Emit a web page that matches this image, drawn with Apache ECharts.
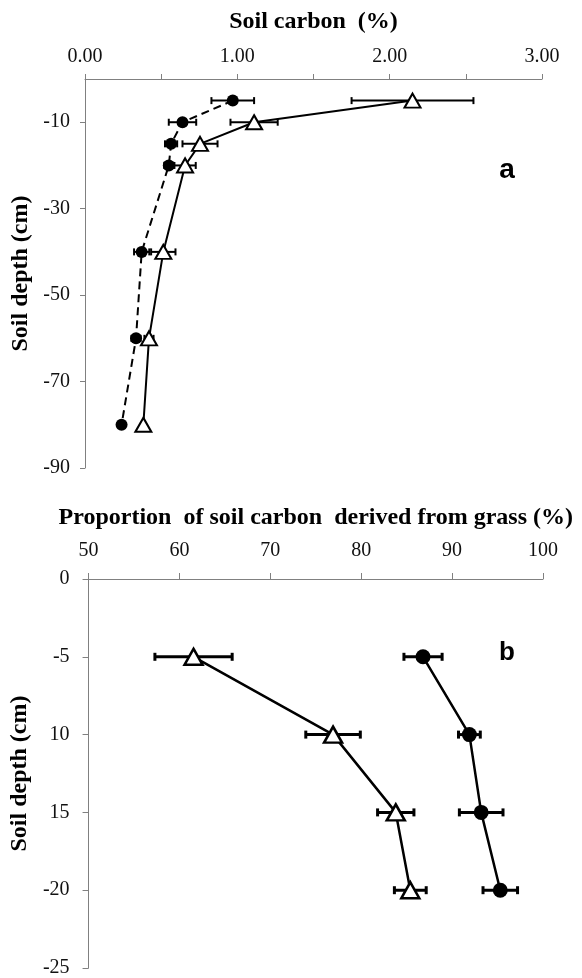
<!DOCTYPE html>
<html>
<head>
<meta charset="utf-8">
<script src="https://cdn.jsdelivr.net/npm/echarts@6/dist/echarts.min.js"></script>
<style>html,body{margin:0;padding:0;background:#fff}#c{width:582px;height:978px}</style>
</head>
<body>
<div id="c"></div>
<script>
// ---- Panel a: soil carbon (%) vs soil depth (cm)
var depthsA = [-5, -10, -15, -20, -40, -60, -80];
var carbonCircle = [0.97, 0.64, 0.565, 0.55, 0.372, 0.335, 0.24];
var carbonCircleErr = [0.14, 0.09, 0.04, 0.03, 0.05, 0.03, 0];
var carbonTriangle = [2.15, 1.11, 0.755, 0.657, 0.514, 0.42, 0.383];
var carbonTriangleErr = [0.40, 0.155, 0.115, 0.07, 0.08, 0.03, 0];

// ---- Panel b: proportion of soil carbon derived from grass (%)
var depthsB = [-5, -10, -15, -20];
var grassTriangle = [61.55, 76.9, 83.8, 85.4];
var grassTriangleErr = [4.25, 3.0, 2.0, 1.75];
var grassCircle = [86.8, 91.9, 93.2, 95.3];
var grassCircleErr = [2.1, 1.2, 2.4, 1.9];

// ---- Tick labels
var ticksAx = {0: '0.00', 1: '1.00', 2: '2.00', 3: '3.00'};
var ticksBy = {'0': '0', '-5': '-5', '-10': '10', '-15': '15', '-20': '-20', '-25': '-25'};

var serif = '"Liberation Serif", "Times New Roman", serif';

function pts(xs, ys) { return xs.map(function (v, i) { return [v, ys[i]]; }); }
function errs(xs, e, ys) {
  var out = [];
  xs.forEach(function (v, i) { if (e[i] > 0) out.push([v - e[i], ys[i], v + e[i]]); });
  return out;
}
function errRender(capH, lw) {
  return function (params, api) {
    var lo = api.value(0), y = api.value(1), hi = api.value(2);
    var a = api.coord([lo, y]), b = api.coord([hi, y]);
    var st = {stroke: '#000', lineWidth: lw};
    return {type: 'group', children: [
      {type: 'line', shape: {x1: a[0], y1: a[1], x2: b[0], y2: b[1]}, style: st},
      {type: 'line', shape: {x1: a[0], y1: a[1] - capH / 2, x2: a[0], y2: a[1] + capH / 2}, style: st},
      {type: 'line', shape: {x1: b[0], y1: b[1] - capH / 2, x2: b[0], y2: b[1] + capH / 2}, style: st}
    ]};
  };
}

var axisLineStyle = {lineStyle: {color: '#808080', width: 1}};
var labelBase = {color: '#111', fontFamily: serif, fontSize: 20};
var nameBase = {color: '#000', fontFamily: serif, fontSize: 24, fontWeight: 'bold'};

var chart = echarts.init(document.getElementById('c'), null, {renderer: 'canvas'});
chart.setOption({
  animation: false,
  backgroundColor: '#fff',
  grid: [
    {left: 85, top: 79, width: 457, height: 389, containLabel: false},
    {left: 84, top: 579, width: 459, height: 392, containLabel: false}
  ],
  xAxis: [
    {gridIndex: 0, type: 'value', position: 'top', min: 0, max: 3, interval: 0.5,
     name: 'Soil carbon  (%)', nameLocation: 'middle', nameGap: 45, nameTextStyle: nameBase,
     axisLine: {show: true, onZero: false, lineStyle: axisLineStyle.lineStyle},
     axisTick: {show: true, length: 5, lineStyle: {color: '#808080'}},
     axisLabel: Object.assign({margin: 12, formatter: function (v) { return ticksAx[v] !== undefined ? ticksAx[v] : ''; }}, labelBase),
     splitLine: {show: false}},
    {gridIndex: 1, type: 'value', position: 'top', min: 50, max: 100, interval: 10,
     name: 'Proportion  of soil carbon  derived from grass (%)', nameLocation: 'middle', nameGap: 49, nameTextStyle: nameBase,
     axisLine: {show: true, onZero: false, lineStyle: axisLineStyle.lineStyle},
     axisTick: {show: true, length: 6, lineStyle: {color: '#808080'}},
     axisLabel: Object.assign({margin: 18}, labelBase),
     splitLine: {show: false}}
  ],
  yAxis: [
    {gridIndex: 0, type: 'value', min: -90, max: 0, interval: 20,
     name: 'Soil depth (cm)', nameLocation: 'middle', nameGap: 52, nameRotate: 90, nameTextStyle: nameBase,
     axisLine: {show: true, onZero: false, lineStyle: axisLineStyle.lineStyle},
     axisTick: {show: true, length: 5, lineStyle: {color: '#808080'}},
     axisLabel: Object.assign({margin: 15, showMaxLabel: false}, labelBase),
     splitLine: {show: false}},
    {gridIndex: 1, type: 'value', min: -25, max: 0, interval: 5,
     name: 'Soil depth (cm)', nameLocation: 'middle', nameGap: 51, nameRotate: 90, nameTextStyle: nameBase,
     axisLine: {show: true, onZero: false, lineStyle: axisLineStyle.lineStyle},
     axisTick: {show: true, length: 6, lineStyle: {color: '#808080'}},
     axisLabel: Object.assign({margin: 19, formatter: function (v) { return ticksBy[String(v)] !== undefined ? ticksBy[String(v)] : String(v); }}, labelBase),
     splitLine: {show: false}}
  ],
  graphic: [
    {type: 'text', x: 507, y: 170, style: {text: 'a', font: 'bold 28px "Liberation Sans", Arial, sans-serif', fill: '#000', textAlign: 'center', textVerticalAlign: 'middle'}},
    {type: 'text', x: 507, y: 653, style: {text: 'b', font: 'bold 26px "Liberation Sans", Arial, sans-serif', fill: '#000', textAlign: 'center', textVerticalAlign: 'middle'}}
  ],
  series: [
    // Panel a error bars
    {type: 'custom', xAxisIndex: 0, yAxisIndex: 0, z: 2, renderItem: errRender(7, 2), encode: {x: [0, 2], y: 1},
     data: errs(carbonCircle, carbonCircleErr, depthsA)},
    {type: 'custom', xAxisIndex: 0, yAxisIndex: 0, z: 2, renderItem: errRender(7, 2), encode: {x: [0, 2], y: 1},
     data: errs(carbonTriangle, carbonTriangleErr, depthsA)},
    // Panel a lines
    {type: 'line', xAxisIndex: 0, yAxisIndex: 0, z: 3, data: pts(carbonCircle, depthsA),
     symbol: 'circle', symbolSize: 12, itemStyle: {color: '#000'},
     lineStyle: {color: '#000', width: 2, type: [8, 5]}},
    {type: 'line', xAxisIndex: 0, yAxisIndex: 0, z: 3, data: pts(carbonTriangle, depthsA),
     symbol: 'triangle', symbolSize: [16, 14], itemStyle: {color: '#fff', borderColor: '#000', borderWidth: 2},
     lineStyle: {color: '#000', width: 2}},
    // Panel b error bars
    {type: 'custom', xAxisIndex: 1, yAxisIndex: 1, z: 2, renderItem: errRender(8, 3), encode: {x: [0, 2], y: 1},
     data: errs(grassTriangle, grassTriangleErr, depthsB)},
    {type: 'custom', xAxisIndex: 1, yAxisIndex: 1, z: 2, renderItem: errRender(8, 3), encode: {x: [0, 2], y: 1},
     data: errs(grassCircle, grassCircleErr, depthsB)},
    // Panel b lines
    {type: 'line', xAxisIndex: 1, yAxisIndex: 1, z: 3, data: pts(grassTriangle, depthsB),
     symbol: 'triangle', symbolSize: [18, 16], itemStyle: {color: '#fff', borderColor: '#000', borderWidth: 2.5},
     lineStyle: {color: '#000', width: 2.5}},
    {type: 'line', xAxisIndex: 1, yAxisIndex: 1, z: 3, data: pts(grassCircle, depthsB),
     symbol: 'circle', symbolSize: 15, itemStyle: {color: '#000'},
     lineStyle: {color: '#000', width: 2.5}}
  ]
});
</script>
</body>
</html>
